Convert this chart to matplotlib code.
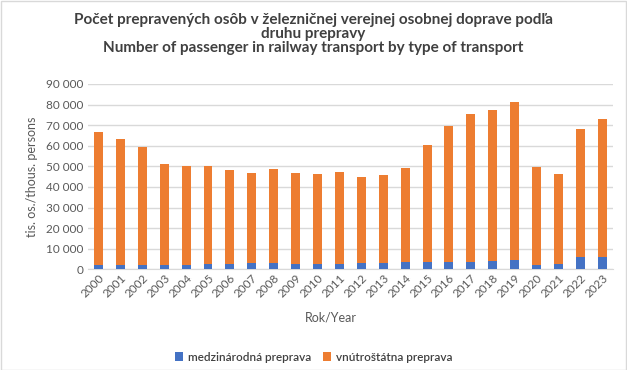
import matplotlib.pyplot as plt
import matplotlib.patches as patches
import numpy as np

plt.rcParams['font.family'] = ['Lato', 'DejaVu Sans']

years = [str(y) for y in range(2000, 2024)]

# thousands of persons
international = [2100, 2100, 2100, 2100, 2100, 2600, 2600, 3100, 3100, 2600,
                 2600, 2600, 3100, 3100, 3600, 3600, 3600, 3600, 4000, 4500,
                 2100, 2600, 6000, 6000]
total = [66700, 63300, 59400, 51200, 50200, 50200, 48200, 46800, 48700, 46800,
         46300, 47300, 44800, 45800, 49200, 60200, 69600, 75400, 77400, 81300,
         49700, 46300, 68200, 73000]
domestic = [t - i for t, i in zip(total, international)]

y_ticks = list(range(0, 90001, 10000))

text_col = '#595959'

fig = plt.figure(figsize=(6.27, 3.70), dpi=100)
ax = fig.add_axes([0.1396, 0.272, 0.8384, 0.501])

x = np.arange(len(years))
ax.bar(x, international, 0.41, color='#4472c4', label='medzinárodná preprava', zorder=3)
ax.bar(x, domestic, 0.41, bottom=international, color='#ed7d31',
       label='vnútroštátna preprava', zorder=3)

ax.set_xlim(-0.5, len(years) - 0.5)
ax.set_ylim(0, 90000)
ax.set_yticks(y_ticks)
ax.set_yticklabels([f'{v:,}'.replace(',', ' ') for v in y_ticks], fontsize=8.5, color=text_col)
ax.set_xticks(x)
ax.set_xticklabels(years, rotation=45, ha='right', rotation_mode='anchor',
                   fontsize=8.5, color=text_col)
ax.tick_params(axis='both', length=0, pad=3)
ax.tick_params(axis='x', pad=2)

ax.grid(axis='y', color='#d9d9d9', linewidth=1, zorder=0)
for s in ['top', 'right', 'left']:
    ax.spines[s].set_visible(False)
ax.spines['bottom'].set_color('#d9d9d9')

ax.set_ylabel('tis. os./thous. persons', fontsize=9, color=text_col, labelpad=6)
fig.text(0.527, 0.143, 'Rok/Year', fontsize=9, color=text_col, ha='center', va='center')

fig.text(0.5, 0.965, 'Počet prepravených osôb v železničnej verejnej osobnej doprave podľa\n'
         'druhu prepravy\nNumber of passenger in railway transport by type of transport',
         ha='center', va='top', fontsize=11, fontweight='bold', color='#404040',
         linespacing=1.0)

fig.legend(loc='center', bbox_to_anchor=(0.5, 0.035), ncol=2, frameon=False,
           prop={'size': 8.5, 'weight': 'semibold'}, labelcolor='#404040',
           handlelength=0.7, handleheight=0.7, columnspacing=1.0, handletextpad=0.4)

fig.patches.append(patches.Rectangle((0.001, 0.001), 0.997, 0.997, transform=fig.transFigure,
                                     fill=False, edgecolor='#d9d9d9', linewidth=1))

fig.savefig('out.png', dpi=100)
